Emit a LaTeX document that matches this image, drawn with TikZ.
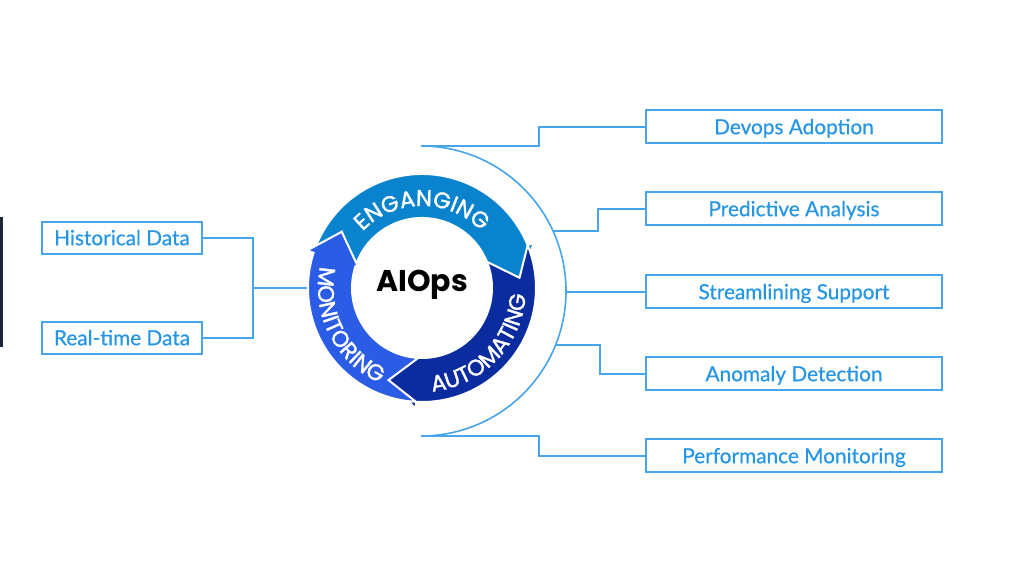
\documentclass[tikz,border=0pt]{standalone}
\usepackage{fontspec}
\setmainfont{Lato}[FakeBold=0.6]
\newfontfamily\popfont{Poppins}
\newfontfamily\popmed{Poppins}[FakeBold=1.4]
\usetikzlibrary{decorations.text}

\definecolor{lineblue}{RGB}{70,165,235}
\definecolor{textblue}{RGB}{38,150,228}
\definecolor{engblue}{RGB}{10,131,207}
\definecolor{autoblue}{RGB}{10,44,158}
\definecolor{monblue}{RGB}{43,92,230}
\definecolor{darkbar}{RGB}{28,40,52}

\newcommand{\ringfont}{\popmed\fontsize{11.3}{13}\selectfont}

\begin{document}
\begin{tikzpicture}[x=0.5pt,y=0.5pt,
    line/.style={draw=lineblue, line width=0.8pt},
    box/.style={draw=lineblue, line width=1pt, inner sep=0pt, text=textblue,
        text height=0.72em, text depth=0pt, font=\fontsize{10.4}{12}\selectfont},
    rbox/.style={box, minimum width=148pt, minimum height=16.5pt},
    lbox/.style={box, minimum width=80pt, minimum height=16pt},
    seg/.style={draw=white, line width=1pt},
    ringtext/.style={decorate, decoration={text along path, text align=center,
        text={|\ringfont\color{white}|#1}}}]
    \useasboundingbox (0,0) rectangle (1024,577);
    \fill[darkbar] (0,230) rectangle (2.5,360);

    % left side
    \node[lbox] (hist) at (122,339) {Historical Data};
    \node[lbox] (real) at (122,239) {Real-time Data};
    \coordinate (join) at (253,289);
    \coordinate (ringW) at (308,289);
    \draw[line] (hist.east) -| (join) |- (real.east);
    \draw[line] (join) -- (ringW);

    % the ring
    \begin{scope}[shift={(422,289)}]
    \fill[engblue, seg] (162:114) arc[start angle=162, end angle=22, radius=114]
        -- (22:121) -- (6:98) -- (22:67) -- (22:70)
        arc[start angle=22, end angle=162, radius=70] -- (145:98) -- cycle;
    \fill[autoblue, seg] (22:114) arc[start angle=22, end angle=-93, radius=114]
        -- (-93:121) -- (-110:98) -- (-93:67) -- (-93:70)
        arc[start angle=-93, end angle=22, radius=70] -- (6:98) -- cycle;
    \fill[monblue, seg] (267:114) arc[start angle=267, end angle=162, radius=114]
        -- (162:121) -- (145:98) -- (162:67) -- (162:70)
        arc[start angle=162, end angle=267, radius=70] -- (250:98) -- cycle;
    \path[ringtext=ENGANGING] (150:82) arc[start angle=150, end angle=30, radius=82];
    \path[ringtext=AUTOMATING] (-89:104) arc[start angle=-89, end angle=1, radius=104];
    \path[ringtext=MONITORING] (166:104) arc[start angle=166, end angle=248, radius=104];
    \end{scope}
    \node[anchor=base, font=\popfont\bfseries\fontsize{15}{17}\selectfont] (aiops) at (422,285) {AIOps};

    % right side
    \draw[line] (421,431) arc[start angle=90, end angle=-90, radius=145];
    \coordinate (a1) at (421,431);
    \coordinate (a2) at (553,346);
    \coordinate (a3) at (566,285);
    \coordinate (a4) at (556,232);
    \coordinate (a5) at (421,141);
    \node[rbox] (devops) at (794,450) {Devops Adoption};
    \node[rbox] (pred) at (794,368) {Predictive Analysis};
    \node[rbox] (stream) at (794,285) {Streamlining Support};
    \node[rbox] (anom) at (794,203) {Anomaly Detection};
    \node[rbox] (perf) at (794,121) {Performance Monitoring};
    \draw[line] (a1) -- ++(118,0) |- (devops.west);
    \draw[line] (a2) -- ++(45,0) |- (pred.west);
    \draw[line] (a3) -- (stream.west);
    \draw[line] (a4) -- ++(44,0) |- (anom.west);
    \draw[line] (a5) -- ++(118,0) |- (perf.west);
\end{tikzpicture}
\end{document}
